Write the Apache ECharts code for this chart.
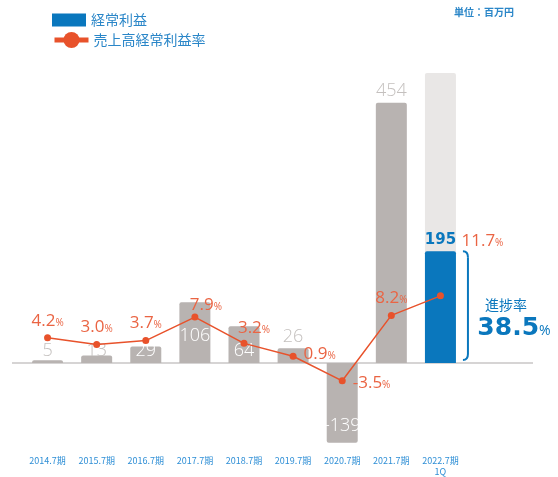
<!DOCTYPE html>
<html>
<head>
<meta charset="utf-8">
<script src="https://cdn.jsdelivr.net/npm/echarts@6/dist/echarts.min.js"></script>
<style>
  html, body { margin: 0; padding: 0; background: #ffffff; }
  #chart { width: 558px; height: 477px; }
</style>
</head>
<body>
<div id="chart"></div>
<script>
// Fiscal periods (last one is the first quarter of FY2022.7)
const categories = ['2014.7期', '2015.7期', '2016.7期', '2017.7期', '2018.7期', '2019.7期', '2020.7期', '2021.7期', '2022.7期\n1Q'];
// 経常利益 (百万円)
const ordinaryProfit = [5, 13, 29, 106, 64, 26, -139, 454, 195];
// 売上高経常利益率 (%)
const profitMargin = [4.2, 3.0, 3.7, 7.9, 3.2, 0.9, -3.5, 8.2, 11.7];
// Full-year plan shown behind the current-year bar
const fullYearPlan = ['-', '-', '-', '-', '-', '-', '-', '-', 506];
// 進捗率 (%)
const progressRate = 38.5;

const BLUE = '#0a77bd';
const GRAY = '#b8b3b1';
const PLAN_GRAY = '#e9e7e6';
const RED = '#e8522b';
const RED_TEXT = '#ea6443';
const TEXT_BLUE = '#2a86c8';
const NUM_FONT = '"Open Sans", Lato, sans-serif';
const BOLD_NUM_FONT = '"DejaVu Sans", sans-serif';
const JP_FONT = '"Noto Sans CJK JP", sans-serif';

const lastIdx = ordinaryProfit.length - 1;

function profitLabel(i, v) {
  const base = { show: true, fontFamily: NUM_FONT, fontSize: 18, fontWeight: 300, color: '#ffffff' };
  if (i === lastIdx) {
    return Object.assign(base, { position: 'top', distance: 4, color: BLUE, fontWeight: 'bold', fontFamily: BOLD_NUM_FONT, fontSize: 15 });
  }
  if (v < 0) return Object.assign(base, { position: 'insideBottom', distance: 8 });
  if (v > 300) return Object.assign(base, { position: 'top', distance: 3, color: '#c4c0be' });
  if (v < 28 && v > 20) return Object.assign(base, { position: 'top', distance: 2, color: '#c4c0be' });
  if (v < 20) return Object.assign(base, { position: 'insideBottom', distance: 3, color: '#c4c0be' });
  if (v > 100) return Object.assign(base, { position: 'inside', offset: [0, 3] });
  return Object.assign(base, { position: 'insideBottom', distance: 3 });
}

function marginLabel(i, v) {
  const lbl = { show: true, position: 'top', distance: 5 };
  if (v === 7.9) { lbl.offset = [11, 5]; }
  else if (v === 3.2) { lbl.offset = [10, 2]; }
  else if (v === 0.9) { lbl.position = 'right'; lbl.distance = 7; lbl.offset = [0, -2]; }
  else if (v < 0) { lbl.position = 'right'; lbl.distance = 7; lbl.offset = [0, 2]; }
  else if (i === lastIdx) { lbl.offset = [42, -38]; }
  return lbl;
}

const chart = echarts.init(document.getElementById('chart'), null, { renderer: 'canvas' });

const option = {
  backgroundColor: '#ffffff',
  animation: false,
  title: {
    text: '単位：百万円',
    right: 44,
    top: 7,
    padding: 0,
    textStyle: { fontFamily: JP_FONT, fontSize: 10, fontWeight: 'bold', color: TEXT_BLUE }
  },
  legend: [
    {
      data: ['経常利益'],
      left: 47, top: 8,
      itemWidth: 34, itemHeight: 13,
      icon: 'rect',
      textStyle: { fontFamily: JP_FONT, fontSize: 14, color: TEXT_BLUE },
      selectedMode: false
    },
    {
      data: ['売上高経常利益率'],
      left: 47, top: 27,
      itemWidth: 34, itemHeight: 20,
      textStyle: { fontFamily: JP_FONT, fontSize: 14, color: TEXT_BLUE },
      itemStyle: { color: RED },
      lineStyle: { width: 5, color: RED },
      selectedMode: false
    }
  ],
  grid: { left: 23, right: 93, top: 65, bottom: 27, containLabel: false },
  xAxis: {
    type: 'category',
    data: categories,
    axisLine: { show: false, onZero: false },
    axisTick: { show: false },
    axisLabel: {
      fontFamily: JP_FONT, fontSize: 9, color: '#2f8fd6',
      margin: 6, lineHeight: 11, interval: 0
    }
  },
  yAxis: [
    { type: 'value', min: -150, max: 520, show: false, splitLine: { show: false } },
    { type: 'value', min: -15.7, max: 53, show: false, splitLine: { show: false } }
  ],
  series: [
    {
      name: '通期計画',
      type: 'bar',
      data: fullYearPlan,
      barWidth: 31,
      barGap: '-100%',
      itemStyle: { color: PLAN_GRAY, borderRadius: [2, 2, 0, 0] },
      silent: true,
      z: 1
    },
    {
      name: '経常利益',
      type: 'bar',
      barWidth: 31,
      barGap: '-100%',
      itemStyle: { color: BLUE },
      data: ordinaryProfit.map((v, i) => ({
        value: v,
        itemStyle: {
          color: i === lastIdx ? BLUE : GRAY,
          borderRadius: v < 0 ? [0, 0, 2, 2] : [2, 2, 0, 0]
        },
        label: profitLabel(i, v)
      })),
      z: 2
    },
    {
      name: '売上高経常利益率',
      type: 'line',
      yAxisIndex: 1,
      symbol: 'circle',
      symbolSize: 7,
      color: RED,
      lineStyle: { width: 1.5, color: RED },
      itemStyle: { color: RED },
      label: {
        fontFamily: NUM_FONT,
        formatter: p => '{v|' + p.value.toFixed(1) + '}{u|%}',
        rich: {
          v: { fontFamily: NUM_FONT, fontSize: 17, color: RED_TEXT },
          u: { fontFamily: NUM_FONT, fontSize: 10, color: RED_TEXT, padding: [4, 0, 0, 0] }
        }
      },
      data: profitMargin.map((v, i) => ({ value: v, label: marginLabel(i, v) })),
      z: 5
    }
  ]
};

chart.setOption(option);

// Baseline across the plot and the progress bracket beside the current bar
function drawOverlay() {
  const y0 = chart.convertToPixel({ yAxisIndex: 0 }, 0);
  const top = chart.convertToPixel({ xAxisIndex: 0, yAxisIndex: 0 }, [lastIdx, ordinaryProfit[lastIdx]]);
  const bx0 = top[0] + 22.5;
  const bx1 = bx0 + 5;
  const byTop = top[1];
  const byBot = y0 - 3;
  const bracketStyle = { fill: null, stroke: BLUE, lineWidth: 2 };
  chart.setOption({
    graphic: [
      {
        type: 'line', z: 0, silent: true,
        shape: { x1: 12, y1: y0, x2: 533, y2: y0 },
        style: { stroke: '#c8c6c6', lineWidth: 1.5 }
      },
      {
        type: 'bezierCurve', z: 10, silent: true,
        shape: { x1: bx0, y1: byTop, cpx1: bx1, cpy1: byTop, x2: bx1, y2: byTop + 6 },
        style: bracketStyle
      },
      {
        type: 'line', z: 10, silent: true,
        shape: { x1: bx1, y1: byTop + 6, x2: bx1, y2: byBot - 6 },
        style: bracketStyle
      },
      {
        type: 'bezierCurve', z: 10, silent: true,
        shape: { x1: bx1, y1: byBot - 6, cpx1: bx1, cpy1: byBot, x2: bx0, y2: byBot },
        style: bracketStyle
      },
      {
        type: 'text', z: 10, silent: true,
        x: 506, y: 305,
        style: {
          text: '進捗率', fontFamily: JP_FONT, fontSize: 14, fill: BLUE,
          align: 'center', verticalAlign: 'middle'
        }
      },
      {
        type: 'text', z: 10, silent: true,
        x: 514, y: 328,
        style: {
          text: '{n|' + progressRate.toFixed(1) + '}{p|%}',
          align: 'center', verticalAlign: 'middle',
          rich: {
            n: { fontFamily: BOLD_NUM_FONT, fontSize: 25, fontWeight: 'bold', fill: BLUE },
            p: { fontFamily: NUM_FONT, fontSize: 14, fill: BLUE, padding: [6, 0, 0, 0] }
          }
        }
      }
    ]
  });
}
drawOverlay();
</script>
</body>
</html>
